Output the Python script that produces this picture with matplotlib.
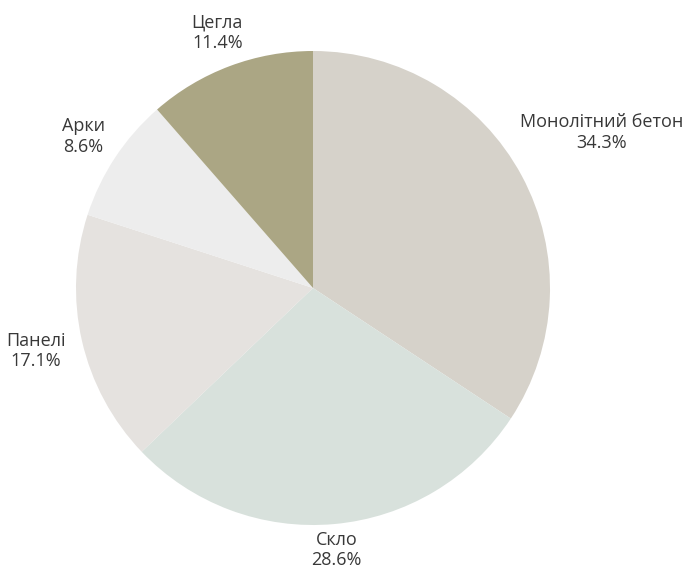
import numpy as np
import matplotlib
matplotlib.use("Agg")
import matplotlib.pyplot as plt

categories = ["Монолітний бетон", "Скло", "Панелі", "Арки", "Цегла"]
values = [12, 10, 6, 3, 4]
colors = ["#d6d2ca", "#d8e1dc", "#e5e2df", "#ededed", "#aba684"]
label_dist = [1.385, 1.11, 1.20, 1.16, 1.15]

W, H = 686, 568
cx, cy, R = 313, 288, 237

fig = plt.figure(figsize=(W / 100, H / 100), dpi=100)
ax = fig.add_axes([0, 0, 1, 1])
ax.axis("off")

wedges, _ = ax.pie(values, colors=colors, startangle=90, counterclock=False,
                   radius=1.0, wedgeprops=dict(linewidth=0))
ax.set_xlim(-cx / R, (W - cx) / R)
ax.set_ylim(-(H - cy) / R, cy / R)

total = sum(values)
for w, cat, v, d in zip(wedges, categories, values, label_dist):
    ang = np.deg2rad((w.theta1 + w.theta2) / 2)
    x, y = d * np.cos(ang), d * np.sin(ang)
    ax.text(x, y, f"{cat}\n{v / total * 100:.1f}%", ha="center", va="center",
            fontsize=13, family=["Open Sans", "DejaVu Sans"], color="#383838",
            linespacing=1.15, multialignment="center")

fig.savefig("out.png", dpi=100)
